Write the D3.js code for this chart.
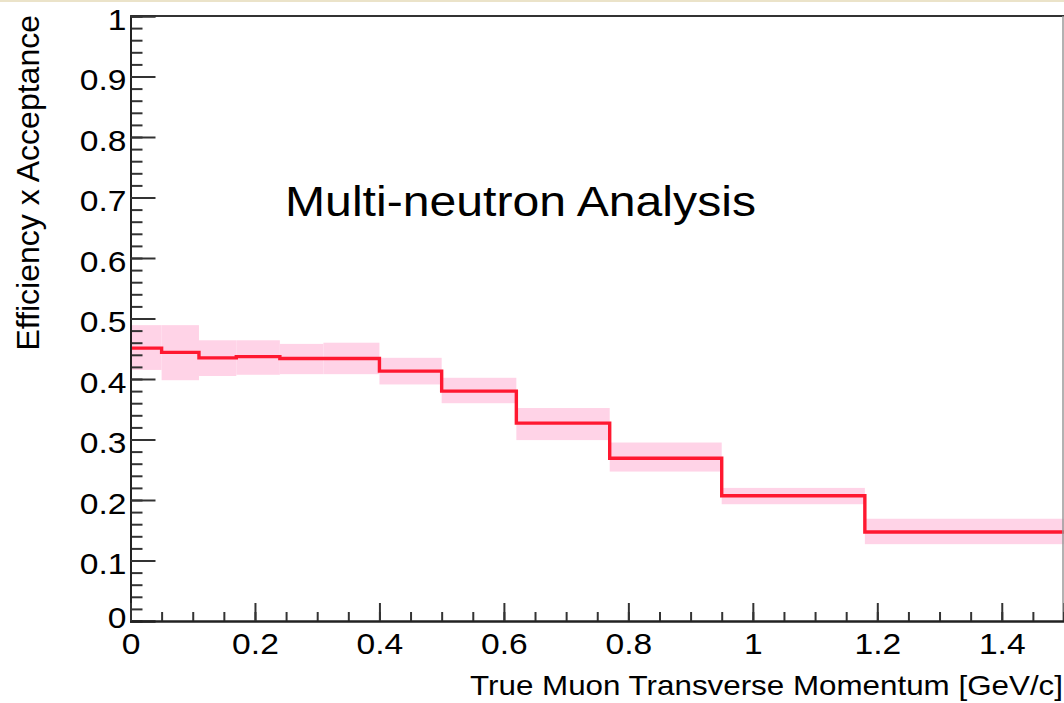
<!DOCTYPE html>
<html>
<head>
<meta charset="utf-8">
<script src="https://cdn.jsdelivr.net/npm/d3@7"></script>
<style>
  body { margin: 0; background: #fff; }
  svg text { font-family: "Liberation Sans", Arial, sans-serif; fill: #000; }
  .st { transform-box: fill-box; }
</style>
</head>
<body>
<div class="canvas"></div>
<script>
// bin edges (GeV/c) and efficiency x acceptance per bin
const binEdges = [0, 0.05, 0.11, 0.17, 0.24, 0.31, 0.40, 0.50, 0.62, 0.77, 0.95, 1.18, 1.5];
const efficiency = [0.451, 0.444, 0.435, 0.437, 0.434, 0.434, 0.413, 0.380, 0.327, 0.269, 0.207, 0.147];
const bandHigh = [0.489, 0.489, 0.464, 0.464, 0.458, 0.460, 0.435, 0.402, 0.352, 0.295, 0.220, 0.169];
const bandLow = [0.415, 0.398, 0.405, 0.407, 0.408, 0.408, 0.391, 0.360, 0.299, 0.247, 0.193, 0.127];
const xMajor = [0, 0.2, 0.4, 0.6, 0.8, 1.0, 1.2, 1.4];
const yMajor = [0, 0.1, 0.2, 0.3, 0.4, 0.5, 0.6, 0.7, 0.8, 0.9, 1.0];

const width = 1064, height = 703;
const stretch = 1.12;

const svg = d3.select('.canvas')
   .append('svg')
   .attr('width', width)
   .attr('height', height);

// thin cream strip along the top of the slide
svg.append('rect')
   .attr('x', 0).attr('y', 0)
   .attr('width', width).attr('height', 2)
   .attr('fill', '#ebe3c9');

const x = d3.scaleLinear().domain([0, 1.5]).range([130.5, 1064]);
const y = d3.scaleLinear().domain([0, 1]).range([621, 16]);

// error band
const bins = efficiency.map((v, i) => ({
   lo: binEdges[i], hi: binEdges[i + 1], v: v, up: bandHigh[i], dn: bandLow[i]
}));

svg.append('g')
   .selectAll('rect')
   .data(bins)
   .enter()
   .append('rect')
      .attr('x', d => x(d.lo))
      .attr('width', d => x(d.hi) - x(d.lo))
      .attr('y', d => y(d.up))
      .attr('height', d => y(d.dn) - y(d.up))
      .attr('fill', '#ffd3e7');

// histogram step line
const stepPoints = bins.map(d => [d.lo, d.v]);
stepPoints.push([binEdges[binEdges.length - 1], efficiency[efficiency.length - 1]]);

const line = d3.line()
   .x(d => x(d[0]))
   .y(d => y(d[1]))
   .curve(d3.curveStepAfter);

svg.append('path')
   .datum(stepPoints)
   .attr('fill', 'none')
   .attr('stroke', '#ff1830')
   .attr('stroke-width', 3.4)
   .attr('d', line);

// frame (top + right)
svg.append('line')
   .attr('x1', x(0)).attr('x2', width)
   .attr('y1', y(1)).attr('y2', y(1))
   .attr('stroke', '#333').attr('stroke-width', 2);
svg.append('line')
   .attr('x1', 1063).attr('x2', 1063)
   .attr('y1', y(1)).attr('y2', y(0))
   .attr('stroke', '#999').attr('stroke-width', 1.5);

// axes
const fmt = d => String(+d.toFixed(1));

const yMinorAxis = d3.axisLeft(y)
   .tickValues(d3.range(0, 1.001, 0.02))
   .tickSize(-12)
   .tickFormat('');
const yAxis = d3.axisLeft(y)
   .tickValues(yMajor)
   .tickSize(-25)
   .tickPadding(4)
   .tickFormat(fmt);

const xMinorAxis = d3.axisBottom(x)
   .tickValues(d3.range(0, 1.501, 0.05))
   .tickSize(-9)
   .tickFormat('');
const xAxis = d3.axisBottom(x)
   .tickValues(xMajor)
   .tickSize(-18)
   .tickFormat(fmt);

function styleAxis(g) {
   g.select('.domain').attr('stroke', '#222').attr('stroke-width', 2);
   g.selectAll('.tick line').attr('stroke', '#333').attr('stroke-width', 2);
}

const yMinorGroup = svg.append('g')
   .attr('transform', `translate(${x(0)}, 0)`)
   .call(yMinorAxis);
styleAxis(yMinorGroup);

const yAxisGroup = svg.append('g')
   .attr('transform', `translate(${x(0)}, 0)`)
   .call(yAxis);
styleAxis(yAxisGroup);

const xMinorGroup = svg.append('g')
   .attr('transform', `translate(0, ${y(0)})`)
   .call(xMinorAxis);
styleAxis(xMinorGroup);

const xAxisGroup = svg.append('g')
   .attr('transform', `translate(0, ${y(0)})`)
   .call(xAxis);
styleAxis(xAxisGroup);

yAxisGroup.selectAll('text')
   .attr('font-size', 30)
   .attr('font-family', '"Liberation Sans", Arial, sans-serif')
   .attr('fill', '#000')
   .attr('dy', d => d === 0 ? 6 : 13)
   .attr('class', 'st')
   .style('transform-origin', 'right')
   .style('transform', `scaleX(${stretch})`);

xAxisGroup.selectAll('text')
   .attr('font-size', 30)
   .attr('font-family', '"Liberation Sans", Arial, sans-serif')
   .attr('fill', '#000')
   .attr('y', 0)
   .attr('dy', 33)
   .attr('class', 'st')
   .style('transform-origin', 'center')
   .style('transform', `scaleX(${stretch})`);

// axis titles
svg.append('text')
   .attr('x', 1063)
   .attr('y', 695)
   .attr('text-anchor', 'end')
   .attr('font-size', 28)
   .attr('class', 'st')
   .style('transform-origin', 'right')
   .style('transform', `scaleX(${stretch})`)
   .text('True Muon Transverse Momentum [GeV/c]');

svg.append('g')
   .attr('transform', 'translate(39, 15) rotate(-90)')
   .append('text')
   .attr('x', 0)
   .attr('y', 0)
   .attr('text-anchor', 'end')
   .attr('font-size', 32)
   .attr('class', 'st')
   .style('transform-origin', 'bottom')
   .style('transform', 'scaleY(1.0)')
   .text('Efficiency x Acceptance');

// label inside the pad
svg.append('text')
   .attr('x', 285)
   .attr('y', 216)
   .attr('font-size', 43)
   .attr('class', 'st')
   .style('transform-origin', 'left')
   .style('transform', `scaleX(${stretch})`)
   .text('Multi-neutron Analysis');
</script>
</body>
</html>
